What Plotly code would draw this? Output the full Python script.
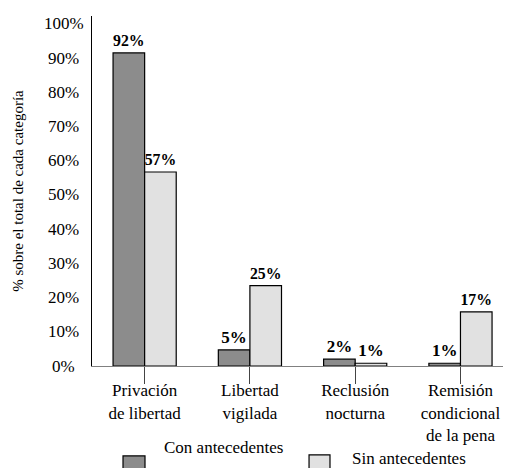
import plotly.graph_objects as go

categories = ["Privación<br>de libertad", "Libertad<br>vigilada", "Reclusión<br>nocturna", "Remisión<br>condicional<br>de la pena"]
series_names = ["Con antecedentes", "Sin antecedentes"]
con_values = [91.5, 4.7, 2.0, 0.8]
sin_values = [56.7, 23.5, 0.8, 15.8]
con_labels = ["92%", "5%", "2%", "1%"]
sin_labels = ["57%", "25%", "1%", "17%"]
y_ticks = [0, 10, 20, 30, 40, 50, 60, 70, 80, 90, 100]
y_ticktext = [f"{v}%" for v in y_ticks]
y_title = "% sobre el total de cada categoría"

FONT = "Times New Roman"
colors = ["#8c8c8c", "#e1e1e1"]

fig = go.Figure()
for name, vals, labs, col in [(series_names[0], con_values, con_labels, colors[0]),
                              (series_names[1], sin_values, sin_labels, colors[1])]:
    fig.add_trace(go.Bar(
        x=list(range(len(categories))), y=vals, name=name,
        marker=dict(color=col, line=dict(color="black", width=1.2)),
        text=[f"<b>{t}</b>" for t in labs], textposition="outside",
        textfont=dict(family=FONT, size=17, color="black"),
        cliponaxis=False, showlegend=False,
    ))

# page body has an 8px margin; figure is sized so it ends at the window edge
fig.update_layout(
    width=503, height=460,
    margin=dict(l=84, r=0, t=8, b=102),
    paper_bgcolor="white", plot_bgcolor="white",
    barmode="group", bargap=0.4, bargroupgap=0,
    font=dict(family=FONT, size=17, color="black"),
    xaxis=dict(
        tickmode="array", tickvals=list(range(len(categories))), ticktext=categories,
        range=[-0.5, 3.48], showline=True, linecolor="#808080", linewidth=1,
        ticks="outside", tickson="boundaries", ticklen=17, tickcolor="#444",
        ticklabelstandoff=-8,
        tickfont=dict(family=FONT, size=17, color="black"), showgrid=False, zeroline=False,
    ),
    yaxis=dict(
        range=[0, 102.3], tickmode="array", tickvals=y_ticks,
        showticklabels=False,
        showline=True, linecolor="black", linewidth=1, ticks="",
        showgrid=False, zeroline=False,
    ),
)

# y tick labels, centred in their column as in the reference
for v, t in zip(y_ticks, y_ticktext):
    fig.add_annotation(xref="paper", yref="y", x=-0.067, y=v, text=t,
                       showarrow=False, xanchor="center", yanchor="middle",
                       font=dict(family=FONT, size=17, color="black"))

# y axis title
fig.add_annotation(xref="paper", yref="paper", x=-0.177, y=0.5, text=y_title,
                   textangle=-90, showarrow=False, xanchor="center", yanchor="middle",
                   font=dict(family=FONT, size=15, color="black"))

# custom legend (paper coordinates relative to plot area 350px tall, 419px wide)
legend_items = [
    (series_names[0], colors[0], 0.074, 0.1265, -0.257, 0.167, -0.234),
    (series_names[1], colors[1], 0.518, 0.568, -0.254, 0.616, -0.263),
]
for name, col, x0, x1, ytop, tx, ty in legend_items:
    fig.add_shape(type="rect", xref="paper", yref="paper", x0=x0, x1=x1,
                  y0=ytop, y1=ytop - 0.062, fillcolor=col,
                  line=dict(color="black", width=1.2))
    fig.add_annotation(xref="paper", yref="paper", x=tx, y=ty, text=name,
                       showarrow=False, xanchor="left", yanchor="middle",
                       font=dict(family=FONT, size=17, color="black"))

fig.write_html("out.html")
